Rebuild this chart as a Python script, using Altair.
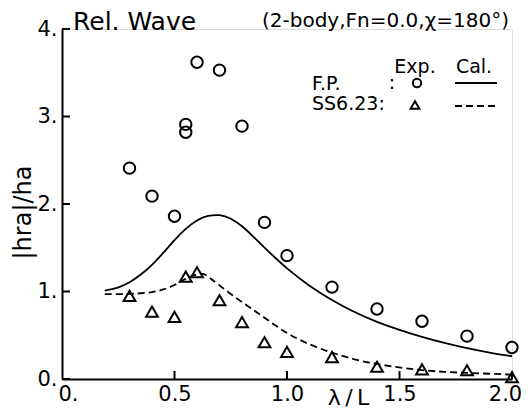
import altair as alt
import pandas as pd

# ---------------- data ----------------
fp_exp_x = [0.3, 0.4, 0.5, 0.55, 0.55, 0.6, 0.7, 0.8, 0.9, 1.0, 1.2, 1.4, 1.6, 1.8, 2.0]
fp_exp_y = [2.41, 2.09, 1.86, 2.91, 2.82, 3.62, 3.53, 2.89, 1.79, 1.41, 1.05, 0.80, 0.66, 0.49, 0.36]

ss_exp_x = [0.3, 0.4, 0.5, 0.55, 0.6, 0.7, 0.8, 0.9, 1.0, 1.2, 1.4, 1.6, 1.8, 2.0]
ss_exp_y = [0.95, 0.77, 0.71, 1.17, 1.22, 0.90, 0.65, 0.42, 0.31, 0.25, 0.14, 0.11, 0.10, 0.02]

fp_cal_x = [0.19, 0.25, 0.30, 0.35, 0.40, 0.45, 0.50, 0.55, 0.60, 0.65, 0.70, 0.75, 0.80,
            0.85, 0.90, 0.95, 1.00, 1.10, 1.20, 1.30, 1.40, 1.50, 1.60, 1.70, 1.80, 1.90, 2.00]
fp_cal_y = [1.01, 1.04, 1.10, 1.19, 1.30, 1.44, 1.59, 1.72, 1.82, 1.87, 1.88, 1.84, 1.75,
            1.63, 1.50, 1.38, 1.26, 1.06, 0.90, 0.76, 0.65, 0.56, 0.48, 0.41, 0.35, 0.30, 0.26]

ss_cal_x = [0.19, 0.25, 0.30, 0.35, 0.40, 0.45, 0.50, 0.55, 0.60, 0.63, 0.66, 0.70, 0.75,
            0.80, 0.85, 0.90, 0.95, 1.00, 1.10, 1.20, 1.30, 1.40, 1.50, 1.60, 1.70, 1.80, 1.90, 2.00]
ss_cal_y = [0.97, 0.97, 0.97, 0.98, 0.99, 1.02, 1.07, 1.15, 1.20, 1.21, 1.15, 1.07, 0.97,
            0.88, 0.79, 0.70, 0.61, 0.52, 0.39, 0.30, 0.22, 0.17, 0.13, 0.10, 0.08, 0.07, 0.06, 0.05]

x_ticks = [0.0, 0.5, 1.0, 1.5, 2.0]
y_ticks = [0, 1, 2, 3, 4]

title_text = "Rel. Wave"
cond_text = "(2-body,Fn=0.0,\u03c7=180\u00b0)"
legend_headers = ["Exp.", "Cal."]
series_names = ["F.P.", "SS6.23:"]

FONT = "DejaVu Sans"
W, H = 450, 350

xs = alt.Scale(domain=[0, 2.0], nice=False)
ys = alt.Scale(domain=[0, 4], nice=False)

fp_exp = pd.DataFrame({"x": fp_exp_x, "y": fp_exp_y})
ss_exp = pd.DataFrame({"x": ss_exp_x, "y": ss_exp_y})
fp_cal = pd.DataFrame({"x": fp_cal_x, "y": fp_cal_y})
ss_cal = pd.DataFrame({"x": ss_cal_x, "y": ss_cal_y})

x_axis = alt.Axis(values=x_ticks, ticks=False, grid=False, domainColor="black", domainWidth=2,
                  labelExpr="datum.value == 0 ? '0.' : format(datum.value, '.1f')",
                  labelFont=FONT, labelFontSize=21, labelColor="black", labelPadding=4,
                  labelFlush=False, labelOverlap=False,
                  labelOffset={"condition": [{"test": "datum.value == 0", "value": 6},
                                             {"test": "datum.value == 2", "value": -7}],
                               "value": 0},
                  title="\u03bb\u2009/\u2009L", titleFont=FONT, titleFontSize=22,
                  titleFontWeight="normal", titleColor="black", titleX=286, titleY=18,
                  titleBaseline="middle", titleAlign="center")
y_axis = alt.Axis(values=y_ticks, ticks=False, grid=False, domainColor="black", domainWidth=2,
                  labelExpr="format(datum.value, 'd') + '.'",
                  labelFont=FONT, labelFontSize=21, labelColor="black", labelPadding=5,
                  labelFlush=False, labelOverlap=False,
                  title="|hra|/ha", titleFont=FONT, titleFontSize=24, titleFontWeight="normal",
                  titleColor="black", titleX=-39, titleY=183, titleAngle=270,
                  titleAlign="center", titleBaseline="middle")

X = lambda f: alt.X(f, scale=xs, axis=x_axis)
Y = lambda f: alt.Y(f, scale=ys, axis=y_axis)

solid = alt.Chart(fp_cal).mark_line(color="black", strokeWidth=1.8, interpolate="basis").encode(
    x=X("x:Q"), y=Y("y:Q"))
dashed = alt.Chart(ss_cal).mark_line(color="black", strokeWidth=1.8, strokeDash=[7, 4],
                                     interpolate="basis").encode(x=X("x:Q"), y=Y("y:Q"))
circles = alt.Chart(fp_exp).mark_point(shape="circle", size=130, filled=False, color="black",
                                       strokeWidth=2, opacity=1).encode(x=X("x:Q"), y=Y("y:Q"))
tris = alt.Chart(ss_exp).mark_point(shape="triangle-up", size=140, filled=False, color="black",
                                    strokeWidth=2, opacity=1).encode(x=X("x:Q"), y=Y("y:Q"))

# inward tick marks
yt = alt.Chart(pd.DataFrame({"x": [0] * 5, "y": y_ticks})).mark_rule(
    color="black", strokeWidth=2).encode(y=Y("y:Q"), x=alt.value(0), x2=alt.value(8))
xt = alt.Chart(pd.DataFrame({"x": x_ticks[1:], "y": [0] * 4})).mark_rule(
    color="black", strokeWidth=2).encode(x=X("x:Q"), y=alt.value(H), y2=alt.value(H - 8))

def txt(s, x, y, size=19, align="left", baseline="middle"):
    return alt.Chart(pd.DataFrame({"t": [s]})).mark_text(
        font=FONT, fontSize=size, color="black", align=align, baseline=baseline).encode(
        text="t:N", x=alt.value(x), y=alt.value(y))

title1 = txt(title_text, 11, -19, size=25, baseline="top")
title2 = txt(cond_text, 200, -18, size=20, baseline="top")
h1 = txt(legend_headers[0], 353, 38, size=19, align="center")
h2 = txt(legend_headers[1], 412, 38, size=19, align="center")
n1 = txt(series_names[0], 250, 55, size=19)
c1 = txt(":", 330, 54, size=19, align="center")
n2 = txt(series_names[1], 250, 75, size=19)

leg_sym = pd.DataFrame({"s": [0]})
lc = alt.Chart(leg_sym).mark_point(shape="circle", size=70, filled=False, color="black",
                                   strokeWidth=2, opacity=1).encode(x=alt.value(355), y=alt.value(54))
lt = alt.Chart(leg_sym).mark_point(shape="triangle-up", size=80, filled=False, color="black",
                                   strokeWidth=2, opacity=1).encode(x=alt.value(353), y=alt.value(76))
ls = alt.Chart(leg_sym).mark_rule(color="black", strokeWidth=1.8).encode(
    x=alt.value(393), x2=alt.value(435), y=alt.value(54))
ld = alt.Chart(leg_sym).mark_rule(color="black", strokeWidth=1.8, strokeDash=[7, 4]).encode(
    x=alt.value(393), x2=alt.value(435), y=alt.value(77))

chart = alt.layer(solid, dashed, circles, tris, yt, xt, title1, title2, h1, h2, n1, c1, n2,
                  lc, lt, ls, ld).properties(
    width=W, height=H,
    autosize=alt.AutoSizeParams(type="none"),
    padding={"left": 54, "top": 21, "right": 10, "bottom": 29},
).configure_view(stroke=None).configure(background="white")

chart.save("out.html", embed_options={"renderer": "svg", "actions": False})
